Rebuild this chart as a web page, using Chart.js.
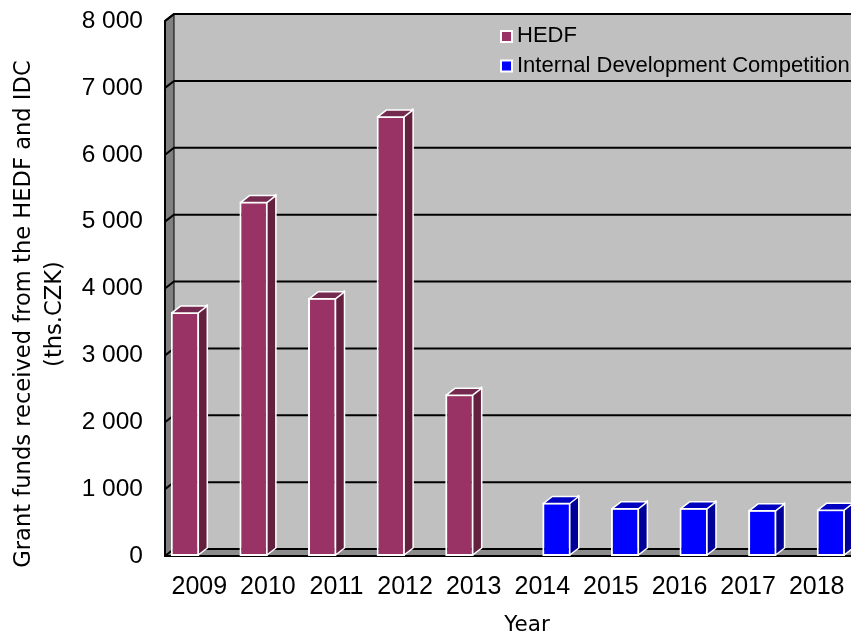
<!DOCTYPE html>
<html>
<head>
<meta charset="utf-8">
<title>Grant funds</title>
<script src="https://cdn.jsdelivr.net/npm/chart.js@4.4.1/dist/chart.umd.min.js"></script>
<style>
    html, body { margin: 0; padding: 0; background: #fff; }
    canvas { display: block; }
</style>
</head>
<body>
<canvas id="myChart" width="851" height="635"></canvas>
<script>
// Chart data
var years = ['2009', '2010', '2011', '2012', '2013', '2014', '2015', '2016', '2017', '2018'];
var hedfValues = [3650, 5300, 3860, 6580, 2420, null, null, null, null, null];
var idcValues = [null, null, null, null, null, 800, 720, 720, 690, 700];
var seriesNames = ['HEDF', 'Internal Development Competition'];
var yMin = 0;
var yMax = 8000;
var yStep = 1000;
var yTitleLines = ['Grant funds received from the HEDF and IDC', '(ths.CZK)'];
var xTitle = 'Year';

// Colours: front, side, top of each bar series
var hedfColors = ['#993366', '#64203f', '#74294f'];
var idcColors = ['#0000ff', '#000099', '#0000c0'];

// depth offset for the pseudo 3D look
var depthX = 9;
var depthY = -7;

function formatThousands(v) {
    return String(v).replace(/\B(?=(\d{3})+(?!\d))/g, ' ');
}

function polygon(ctx, pts, fill, stroke, width) {
    ctx.beginPath();
    ctx.moveTo(pts[0][0], pts[0][1]);
    for (var i = 1; i < pts.length; i++) {
        ctx.lineTo(pts[i][0], pts[i][1]);
    }
    ctx.closePath();
    if (fill) {
        ctx.fillStyle = fill;
        ctx.fill();
    }
    if (stroke) {
        ctx.strokeStyle = stroke;
        ctx.lineWidth = width || 1;
        ctx.stroke();
    }
}

var threeD = {
    id: 'threeD',
    // walls, floor and gridlines behind the bars
    beforeDatasetsDraw: function(chart) {
        var ctx = chart.ctx;
        var a = chart.chartArea;
        var y = chart.scales.y;
        ctx.save();

        // back wall
        ctx.fillStyle = '#c0c0c0';
        ctx.fillRect(a.left + depthX, a.top + depthY, a.right - a.left + 10, a.bottom - a.top);

        // floor
        polygon(ctx, [[a.left, a.bottom], [a.left + depthX, a.bottom + depthY],
            [a.right + depthX, a.bottom + depthY], [a.right + depthX, a.bottom]], '#8c8c8c');

        // left wall
        polygon(ctx, [[a.left, a.top], [a.left + depthX, a.top + depthY],
            [a.left + depthX, a.bottom + depthY], [a.left, a.bottom]], '#808080');

        // gridlines across the left wall and back wall
        ctx.strokeStyle = '#000';
        ctx.lineWidth = 2;
        y.ticks.forEach(function(t) {
            var py = y.getPixelForValue(t.value);
            ctx.beginPath();
            ctx.moveTo(a.left, py);
            ctx.lineTo(a.left + depthX, py + depthY);
            ctx.lineTo(a.right + depthX, py + depthY);
            ctx.stroke();
        });

        // inner edge of the left wall
        ctx.lineWidth = 1;
        ctx.beginPath();
        ctx.moveTo(a.left + depthX, a.top + depthY);
        ctx.lineTo(a.left + depthX, a.bottom + depthY);
        ctx.stroke();

        // front axis lines
        ctx.lineWidth = 2;
        ctx.beginPath();
        ctx.moveTo(a.left + depthX, a.top + depthY);
        ctx.lineTo(a.left, a.top);
        ctx.lineTo(a.left, a.bottom);
        ctx.lineTo(a.right + depthX, a.bottom);
        ctx.stroke();

        ctx.restore();
    },
    // side and top faces of every bar
    afterDatasetsDraw: function(chart) {
        var ctx = chart.ctx;
        ctx.save();
        ctx.lineJoin = 'round';
        chart.data.datasets.forEach(function(ds, i) {
            var meta = chart.getDatasetMeta(i);
            meta.data.forEach(function(bar, j) {
                if (ds.data[j] === null) return;
                var p = bar.getProps(['x', 'y', 'base', 'width'], true);
                var l = p.x - p.width / 2 + 1;
                var r = p.x + p.width / 2 - 1;
                polygon(ctx, [[r, p.y], [r + depthX, p.y + depthY],
                    [r + depthX, p.base + depthY - 1], [r, p.base - 1]], ds.sideColor, '#fff', 1.5);
                polygon(ctx, [[l, p.y + 1], [l + depthX, p.y + 1 + depthY],
                    [r + depthX, p.y + 1 + depthY], [r, p.y + 1]], ds.topColor, '#fff', 1.5);
            });
        });
        ctx.restore();
    },
    // legend and axis titles
    afterDraw: function(chart) {
        var ctx = chart.ctx;
        ctx.save();

        ctx.font = '22px "Liberation Sans", Arial, sans-serif';
        ctx.textBaseline = 'middle';
        ctx.textAlign = 'left';
        var rows = [36, 65.5];
        chart.data.datasets.forEach(function(ds, i) {
            ctx.fillStyle = '#fff';
            ctx.fillRect(500, rows[i] - 6, 13, 13);
            ctx.fillStyle = ds.backgroundColor;
            ctx.fillRect(502, rows[i] - 4, 9, 9);
            ctx.fillStyle = '#000';
            ctx.fillText(ds.label, 517, rows[i]);
        });

        ctx.font = '22.6px "DejaVu Sans", sans-serif';
        ctx.textAlign = 'center';
        ctx.save();
        ctx.translate(0, 314);
        ctx.rotate(-Math.PI / 2);
        ctx.fillText(yTitleLines[0], 0, 24);
        ctx.fillText(yTitleLines[1], 0, 55);
        ctx.restore();

        ctx.font = '21.5px "DejaVu Sans", sans-serif';
        ctx.fillText(xTitle, 527, 625);

        ctx.restore();
    }
};

var ctx = document.getElementById('myChart').getContext('2d');
var myChart = new Chart(ctx, {
    type: 'bar',
    data: {
        labels: years,
        datasets: [{
            label: seriesNames[0],
            data: hedfValues,
            backgroundColor: hedfColors[0],
            sideColor: hedfColors[1],
            topColor: hedfColors[2],
            borderColor: '#fff',
            borderWidth: 2,
            borderSkipped: false,
            categoryPercentage: 0.83,
            barPercentage: 1.0
        }, {
            label: seriesNames[1],
            data: idcValues,
            backgroundColor: idcColors[0],
            sideColor: idcColors[1],
            topColor: idcColors[2],
            borderColor: '#fff',
            borderWidth: 2,
            borderSkipped: false,
            categoryPercentage: 0.83,
            barPercentage: 1.0
        }]
    },
    options: {
        responsive: false,
        animation: false,
        devicePixelRatio: 1,
        layout: {
            padding: { top: 21, right: 0, left: 0, bottom: 0 }
        },
        plugins: {
            legend: { display: false },
            tooltip: { enabled: false }
        },
        scales: {
            x: {
                // tick marks are not drawn, tickLength only spaces the labels
                grid: { display: false, drawTicks: true, tickLength: 16 },
                border: { display: false },
                ticks: {
                    color: '#000',
                    font: { family: '"Liberation Sans", Arial, sans-serif', size: 25 },
                    padding: 0,
                    maxRotation: 0
                },
                afterFit: function(scale) { scale.height = 79; }
            },
            y: {
                min: yMin,
                max: yMax,
                grid: { display: false, drawTicks: true, tickLength: 22 },
                border: { display: false },
                ticks: {
                    stepSize: yStep,
                    color: '#000',
                    font: { family: '"Liberation Sans", Arial, sans-serif', size: 24.5 },
                    padding: 0,
                    callback: function(v) { return formatThousands(v); }
                },
                afterFit: function(scale) { scale.width = 165; }
            }
        }
    },
    plugins: [threeD]
});
</script>
</body>
</html>
